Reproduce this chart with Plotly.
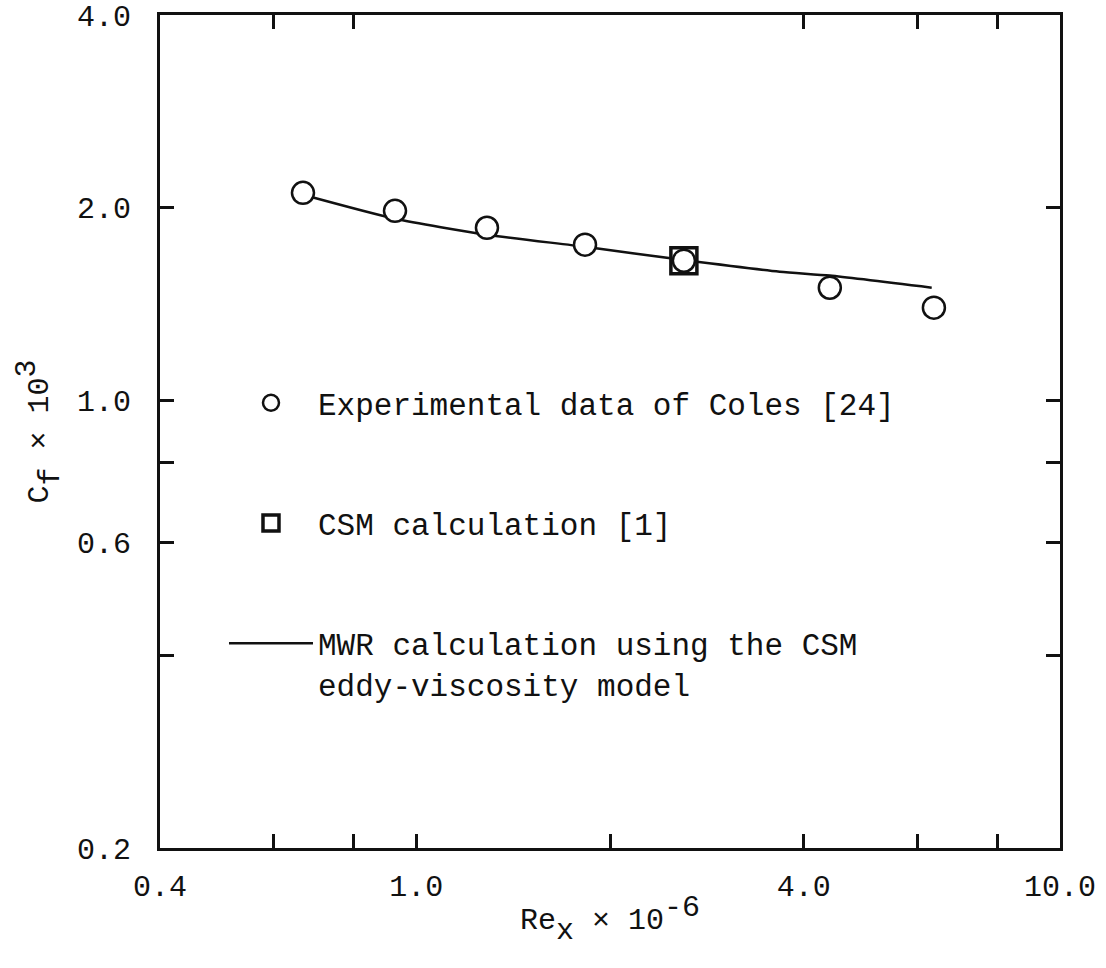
import math
import plotly.graph_objects as go

# ---- data (Re_x x 1e-6, Cf x 1e3) ----
re_exp = [0.667, 0.927, 1.288, 1.829, 2.605, 4.39, 6.37]
cf_exp = [2.110, 1.978, 1.861, 1.751, 1.653, 1.500, 1.396]

re_csm = [2.605]
cf_csm = [1.653]

re_mwr = [0.667, 0.927, 1.288, 1.829, 2.605, 3.67, 4.39, 6.32]
cf_mwr = [2.095, 1.922, 1.815, 1.738, 1.657, 1.589, 1.567, 1.500]

# labelled and unlabelled tick positions
x_tickvals = [0.4, 1.0, 4.0, 10.0]
x_ticktext = ["0.4", "1.0", "4.0", "10.0"]
x_minor_tickvals = [0.6, 0.8, 2.0, 6.0, 8.0]
x_top_tickvals = [0.6, 0.8, 4.0, 6.0, 8.0]
y_tickvals = [0.2, 0.6, 1.0, 2.0, 4.0]
y_ticktext = ["0.2", "0.6", "1.0", "2.0", "4.0"]
y_minor_tickvals = [0.4, 0.8]

name_exp = "Experimental data of Coles [24]"
name_csm = "CSM calculation [1]"
name_mwr = "MWR calculation using the CSM<br>eddy-viscosity model"

FS = "<span style='font-size:30px'>{}</span>"
x_title = ("Re<sub><sub>" + FS.format("x") + "</sub></sub> × 10<sup>"
           + FS.format("-6") + "</sup>")
y_title = ("C<sub><sub>" + FS.format("f") + "</sub></sub> × 10<sup>"
           + FS.format("3") + "</sup>")

FONT = "Liberation Mono, Courier New, monospace"
INK = "#111111"

fig = go.Figure()

fig.add_trace(go.Scatter(
    x=re_mwr, y=cf_mwr, mode="lines", name=name_mwr,
    line=dict(color=INK, width=2.5, shape="spline", smoothing=0.6),
    legendrank=3, legendgroup="c",
))
fig.add_trace(go.Scatter(
    x=re_csm, y=cf_csm, mode="markers", name=name_csm,
    marker=dict(symbol="square", size=26, color="white",
                line=dict(color=INK, width=3.5)),
    legendrank=2, legendgroup="b",
))
fig.add_trace(go.Scatter(
    x=re_exp, y=cf_exp, mode="markers", name=name_exp,
    marker=dict(symbol="circle", size=22, color="white",
                line=dict(color=INK, width=2.5)),
    legendrank=1, legendgroup="a",
))
# invisible trace so the top (mirror) axis is built
fig.add_trace(go.Scatter(
    x=re_mwr, y=cf_mwr, xaxis="x2", mode="lines",
    line=dict(color="rgba(0,0,0,0)"), showlegend=False, hoverinfo="skip",
))

xr = [math.log10(0.4), math.log10(10.0)]
yr = [math.log10(0.2), math.log10(4.0)]

tick_style = dict(ticks="inside", ticklen=14, tickwidth=3, tickcolor=INK)
axis_common = dict(
    showgrid=False, zeroline=False, showline=True, linecolor=INK, linewidth=3,
    automargin=False, tickfont=dict(family=FONT, size=30, color=INK),
    **tick_style,
)

fig.update_layout(
    width=1106, height=968,
    margin=dict(l=160, r=46, t=15, b=120),
    paper_bgcolor="white", plot_bgcolor="white",
    font=dict(family=FONT, size=30, color=INK),
    xaxis=dict(
        type="log", range=xr, tickmode="array",
        tickvals=x_tickvals, ticktext=x_ticktext,
        minor=dict(tickmode="array", tickvals=x_minor_tickvals, showgrid=False, **tick_style),
        ticklabelstandoff=9,
        title=dict(text=x_title,
                   font=dict(family=FONT, size=30, color=INK), standoff=4),
        **axis_common,
    ),
    xaxis2=dict(
        type="log", range=xr, overlaying="x", side="top", anchor="y",
        tickmode="array", tickvals=x_top_tickvals, showticklabels=False,
        **axis_common,
    ),
    yaxis=dict(
        type="log", range=yr, tickmode="array",
        tickvals=y_tickvals, ticktext=y_ticktext, mirror="ticks",
        minor=dict(tickmode="array", tickvals=y_minor_tickvals, showgrid=False, **tick_style),
        ticklabelstandoff=20,
        title=dict(text=y_title,
                   font=dict(family=FONT, size=30, color=INK), standoff=20),
        **axis_common,
    ),
    legend=dict(
        x=0.0711, y=0.5666, xanchor="left", yanchor="top",
        bgcolor="rgba(0,0,0,0)", borderwidth=0,
        font=dict(family=FONT, size=31, color=INK),
        tracegroupgap=77, valign="top", itemwidth=84,
    ),
    showlegend=True,
)

fig.write_html("out.html")
